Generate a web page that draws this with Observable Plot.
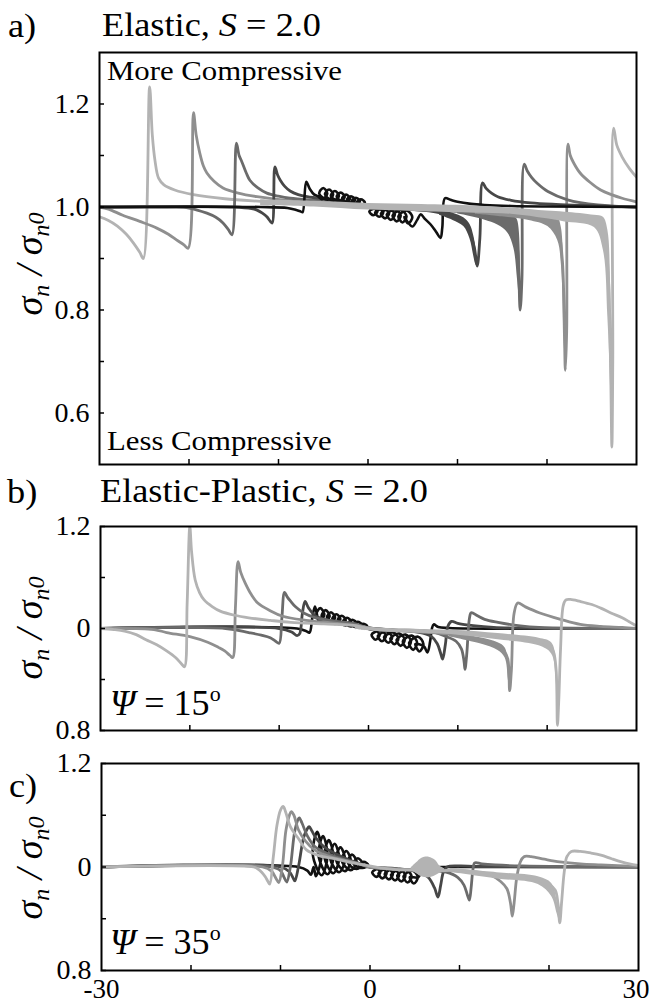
<!DOCTYPE html>
<html>
<head>
<meta charset="utf-8">
<script src="https://cdn.jsdelivr.net/npm/d3@7"></script>
<script src="https://cdn.jsdelivr.net/npm/@observablehq/plot@0.6"></script>
<style>
  html, body { margin: 0; padding: 0; background: #fff; }
  #root { position: relative; width: 649px; height: 1004px; overflow: hidden; font-family: "Liberation Serif", "Times New Roman", serif; }
  #root svg { position: absolute; left: 0; }
</style>
</head>
<body>
<div id="root"></div>
<script>
// ---------- shared axes ----------
const X_DOMAIN = [-30, 30];
const X_TICKS = [-20, -10, 0, 10, 20];
const X_LABEL_VALUES = [-30, 0];
const X_LABEL_TEXT = ["-30", "0"];
const X_LABEL_END = [30];
const X_LABEL_END_TEXT = ["30"];
const Y_TICKS_A = [0.6, 0.7, 0.8, 0.9, 1.0, 1.1, 1.2];
const Y_TEXT_A = ["0.6", "", "0.8", "", "1.0", "", "1.2"];
const Y_TICKS_BC = [0.8, 0.9, 1.0, 1.1, 1.2];
const Y_TEXT_BC = ["0.8", "", "0", "", "1.2"];
const COLORS = { L: "#b3b3b3", G: "#8f8f8f", M: "#6b6b6b", D: "#474747", K: "#111111" };

// ---------- panel a) Elastic ----------
const aL = [[-30,0.981],[-29,0.974],[-28,0.963],[-27,0.947],[-26.2,0.93],[-25.5,0.912],[-25.1,0.9],[-24.4,1.233],[-24.1,1.14],[-23.8,1.09],[-23.4,1.056],[-22.8,1.043],[-21.6,1.033],[-19.5,1.024],[-16,1.016],[-12,1.011],[-8,1.007],[-4,1.004],[0,1.0],[4,0.998],[8,0.996],[12,0.993],[16,0.99],[20,0.984],[23,0.979],[25,0.972],[26,0.96],[26.6,0.92],[26.9,0.85],[27.1,0.7],[27.25,0.534],[27.35,0.7],[27.45,1.153],[27.8,1.12],[28.4,1.097],[29.2,1.075],[30,1.058]];
const aL_band = [[-12,1.014,1.003],[-6,1.011,1.0],[0,1.007,0.994],[6,1.005,0.991],[12,1.002,0.988],[16,0.998,0.986],[20,0.992,0.977],[22,0.99,0.971],[25.3,0.984,0.96],[26.3,0.98,0.916],[26.8,0.955,0.786],[27.1,0.85,0.65],[27.25,0.55,0.534]];
const aG = [[-30,1.0],[-29,0.996],[-27.4,0.984],[-25.5,0.972],[-23.6,0.959],[-22.3,0.947],[-21.4,0.936],[-20.6,0.927],[-20.1,0.92],[-19.5,1.183],[-19.2,1.14],[-18.8,1.105],[-18.4,1.08],[-18.0,1.066],[-17.2,1.05],[-16.2,1.037],[-14.5,1.027],[-12.4,1.02],[-8.5,1.012],[-5,1.008],[-1,1.003],[1,0.998],[5,0.995],[10,0.992],[14,0.988],[17,0.984],[19,0.978],[20.1,0.972],[21.2,0.955],[21.7,0.9],[21.95,0.75],[22.05,0.683],[22.2,0.76],[22.35,1.122],[22.6,1.1],[23,1.085],[23.7,1.066],[24.8,1.048],[26,1.033],[27.2,1.024],[28.4,1.017],[30,1.01]];
const aG_band = [[12,0.994,0.986],[15,0.992,0.981],[18,0.99,0.974],[20.1,0.987,0.962],[21.2,0.98,0.935],[21.6,0.96,0.89],[21.9,0.86,0.75],[22.05,0.683,0.683]];
const aM = [[-30,1.0],[-22,1.0],[-20,0.998],[-18,0.988],[-17,0.98],[-16.2,0.969],[-15.6,0.956],[-15.2,0.946],[-14.7,1.124],[-14.4,1.1],[-14.1,1.088],[-13.6,1.066],[-13.2,1.052],[-12.3,1.037],[-11.3,1.027],[-10,1.021],[-8.7,1.017],[-5,1.012],[-1.2,1.006],[0.5,0.999],[4,0.996],[8,0.993],[11,0.99],[13,0.985],[14.5,0.978],[15.6,0.968],[16.3,0.952],[16.7,0.92],[17.0,0.8],[17.2,0.86],[17.45,1.083],[17.8,1.07],[18.3,1.057],[18.9,1.046],[20.1,1.03],[22.3,1.014],[25.7,1.004],[30,1.0]];
const aM_band = [[10,0.994,0.987],[13,0.99,0.975],[14.5,0.987,0.965],[15.6,0.984,0.95],[16.3,0.981,0.92],[16.7,0.975,0.86],[17.0,0.8,0.8]];
const aD = [[-30,1.0],[-15,1.0],[-13,0.997],[-12.4,0.994],[-11.8,0.988],[-11.3,0.981],[-10.9,0.972],[-10.7,0.969],[-10.4,1.078],[-10.1,1.062],[-9.8,1.052],[-9.3,1.04],[-8.7,1.031],[-7.8,1.024],[-6.8,1.02],[-5,1.016],[-3.1,1.013],[-1.5,1.008],[0,1.001],[3,0.997],[6,0.994],[8.5,0.987],[10.0,0.976],[10.8,0.968],[11.4,0.95],[11.9,0.92],[12.2,0.885],[12.5,0.94],[12.8,1.047],[13.2,1.036],[13.8,1.027],[14.5,1.02],[16,1.013],[18.2,1.008],[21,1.005],[24,1.003],[30,1.0]];
const aD_band = [[8,0.992,0.984],[9.5,0.988,0.974],[10.7,0.979,0.962],[11.4,0.966,0.938],[11.8,0.945,0.906],[12.05,0.92,0.888],[12.2,0.885,0.885]];
const aK_pre = [[-30,1.0],[-12,1.0],[-9,0.998],[-8,0.994],[-7.5,0.991],[-7.3,0.99],[-6.9,1.049],[-6.5,1.035],[-6.0,1.024],[-5.6,1.021]];
const aK_loopsUp = [[-5.0,1.015,1.037],[-4.35,1.014,1.034],[-3.7,1.012,1.031],[-3.05,1.011,1.028],[-2.45,1.009,1.024],[-1.9,1.007,1.021],[-1.35,1.005,1.018],[-0.8,1.003,1.015]];
const aK_mid = [[-0.3,1.003],[0.1,0.999]];
const aK_loopsDown = [[0.6,0.999,0.984],[1.25,0.998,0.981],[1.9,0.997,0.978],[2.55,0.996,0.975],[3.2,0.995,0.972],[3.85,0.994,0.970],[4.5,0.993,0.968]];
const aK_post = [[4.95,0.962],[5.5,0.975],[5.9,0.986],[6.3,0.978],[7.0,0.966],[7.6,0.952],[8.1,0.94],[8.3,0.96],[8.6,1.017],[9.2,1.014],[10,1.01],[11.5,1.006],[13,1.004],[16,1.002],[20,1.001],[30,1.0]];

// ---------- panel b) Elastic-Plastic, psi = 15 ----------
const bL = [[-30,1.0],[-28.5,0.998],[-27.3,0.995],[-26,0.988],[-24.9,0.978],[-23.7,0.968],[-22.6,0.956],[-21.6,0.943],[-20.9,0.93],[-20.6,0.925],[-20.3,1.05],[-20.0,1.2],[-19.8,1.15],[-19.4,1.095],[-18.9,1.07],[-18.4,1.056],[-17.5,1.043],[-16.6,1.034],[-15,1.026],[-13.4,1.021],[-11,1.016],[-8.7,1.012],[-5,1.009],[-1.7,1.006],[0,1.0],[2.5,0.997],[5.2,0.995],[9.8,0.992],[14.5,0.985],[17,0.98],[19.1,0.975],[20.2,0.968],[20.7,0.955],[21.0,0.92],[21.15,0.81],[21.3,0.86],[21.5,0.96],[21.8,1.045],[22.1,1.056],[22.6,1.057],[23.7,1.053],[25,1.047],[26,1.04],[27.2,1.03],[28.4,1.021],[29.3,1.012],[30,1.005]];
const bL_band = [[-1.5,1.006,0.998],[1,1.001,0.994],[6,0.998,0.991],[10,0.996,0.987],[14.5,0.99,0.978],[19.1,0.981,0.966],[20.5,0.972,0.95],[21.0,0.94,0.9],[21.15,0.81,0.81]];
const bG = [[-30,1.0],[-24,0.998],[-22.6,0.992],[-20,0.984],[-18,0.973],[-16.8,0.963],[-16.1,0.956],[-15.5,0.947],[-15.2,0.943],[-14.9,1.04],[-14.6,1.131],[-14.3,1.11],[-13.8,1.089],[-13.1,1.066],[-12.4,1.05],[-11,1.035],[-9.6,1.024],[-7,1.016],[-4.1,1.011],[-1,1.005],[1,0.998],[5,0.994],[9.8,0.988],[12.5,0.978],[14.5,0.966],[15.2,0.955],[15.6,0.94],[15.8,0.878],[16.0,0.92],[16.3,1.03],[16.7,1.05],[17.5,1.043],[19.1,1.031],[21.5,1.018],[23.7,1.008],[26,1.004],[28.4,1.002],[30,1.0]];
const bG_band = [[9,0.99,0.984],[12.5,0.982,0.97],[14.5,0.972,0.957],[15.3,0.962,0.942],[15.65,0.93,0.9],[15.8,0.878,0.878]];
const bM = [[-30,1.0],[-16,1.0],[-13.4,0.992],[-12,0.987],[-11,0.982],[-10.4,0.975],[-10,0.971],[-9.7,1.02],[-9.4,1.071],[-9.1,1.062],[-8.7,1.053],[-8.2,1.043],[-7.2,1.03],[-5.9,1.021],[-4,1.015],[-1.7,1.01],[0,1.001],[3,0.997],[6,0.996],[7.5,0.992],[8.6,0.985],[9.8,0.975],[10.4,0.96],[10.7,0.935],[10.8,0.92],[11.0,0.95],[11.3,1.02],[11.5,1.031],[12.2,1.025],[13,1.018],[14.5,1.012],[17,1.005],[19.1,1.002],[30,1.0]];
const bD = [[-30,1.0],[-10,1.0],[-8.6,0.993],[-8.0,0.986],[-7.7,0.99],[-7.4,1.03],[-7.1,1.053],[-6.7,1.04],[-5.9,1.024],[-4.5,1.016],[-3,1.011],[-1.7,1.008],[0,1.001],[3,0.997],[5.5,0.993],[7,0.985],[7.7,0.97],[8.1,0.95],[8.3,0.94],[8.6,0.968],[8.9,1.005],[9.3,1.014],[10,1.01],[11.5,1.006],[14,1.002],[30,1.0]];
const bK_pre = [[-30,1.0],[-8,1.0],[-7.0,0.995],[-6.6,0.992],[-6.3,1.02],[-6.0,1.043],[-5.8,1.03]];
const bK_loopsUp = [[-5.4,1.013,1.040],[-4.8,1.012,1.036],[-4.2,1.011,1.032],[-3.6,1.009,1.028],[-3.0,1.008,1.025],[-2.4,1.006,1.021],[-1.8,1.004,1.017],[-1.2,1.003,1.013],[-0.6,1.001,1.009]];
const bK_mid = [[-0.1,1.0],[0.3,0.998]];
const bK_loopsDown = [[0.8,0.998,0.978],[1.5,0.996,0.975],[2.2,0.994,0.972],[2.9,0.992,0.969],[3.6,0.99,0.966],[4.3,0.988,0.962],[5.0,0.986,0.958],[5.7,0.984,0.955]];
const bK_post = [[6.2,0.965],[6.6,0.953],[6.9,0.975],[7.1,1.0],[7.3,1.008],[7.8,1.003],[9,1.001],[30,1.0]];

// ---------- panel c) psi = 35 ----------
const cL = [[-30,1.0],[-13,1.0],[-12.6,0.997],[-12.1,0.99],[-11.7,0.981],[-11.4,0.972],[-11.2,0.967],[-10.8,1.02],[-10.4,1.08],[-10.0,1.11],[-9.7,1.117],[-9.4,1.105],[-8.9,1.078],[-8.0,1.055],[-7.1,1.033],[-5.7,1.022],[-4.3,1.017],[-2.5,1.01],[-0.6,1.004],[1,0.999],[3,0.995],[5,0.994],[8,0.993],[9.6,0.994],[12,0.99],[14.2,0.984],[16.5,0.98],[18.8,0.975],[20.0,0.967],[20.7,0.955],[21.0,0.93],[21.2,0.892],[21.4,0.93],[21.7,0.99],[22.0,1.02],[22.5,1.03],[23.5,1.03],[24.7,1.027],[25.8,1.023],[27,1.016],[28.1,1.01],[29,1.006],[30,1.003]];
const cL_band = [[9,0.997,0.99],[14.2,0.989,0.977],[18.8,0.981,0.966],[20.3,0.968,0.943],[20.9,0.935,0.91],[21.2,0.892,0.892]];
const cL_blob = [[4.6,0.998,0.994],[5.2,1.008,0.987],[5.8,1.017,0.981],[6.6,1.019,0.979],[7.3,1.013,0.983],[7.8,1.002,0.988],[8.3,0.997,0.992]];
const cG = [[-30,1.0],[-12,1.0],[-11,0.992],[-10.5,0.978],[-10.2,0.97],[-9.8,1.0],[-9.4,1.07],[-9.0,1.1],[-8.8,1.107],[-8.5,1.1],[-8.0,1.072],[-7.2,1.05],[-6.2,1.033],[-4.5,1.02],[-2.0,1.01],[0,1.0],[3,0.996],[6,0.994],[9,0.993],[11.9,0.99],[13.5,0.984],[14.6,0.972],[15.3,0.958],[15.7,0.93],[15.9,0.905],[16.1,0.93],[16.4,0.98],[16.8,1.01],[17.2,1.02],[18,1.02],[19.5,1.015],[21.2,1.01],[23.5,1.006],[25.8,1.004],[30,1.001]];
const cM = [[-30,1.0],[-11,1.0],[-10,0.993],[-9.6,0.98],[-9.3,0.971],[-8.9,1.0],[-8.4,1.07],[-8.0,1.093],[-7.9,1.095],[-7.6,1.085],[-7.0,1.06],[-6.2,1.04],[-5,1.028],[-3,1.015],[-1,1.005],[0,1.0],[3,0.996],[6,0.994],[8.5,0.99],[9.8,0.98],[10.5,0.965],[10.9,0.945],[11.1,0.936],[11.3,0.96],[11.5,0.995],[11.7,1.008],[12.5,1.006],[14,1.004],[17,1.002],[30,1.0]];
const cD = [[-30,1.0],[-10,1.0],[-9,0.991],[-8.6,0.979],[-8.4,0.973],[-8.0,1.0],[-7.4,1.058],[-7.0,1.074],[-6.8,1.078],[-6.5,1.07],[-6.0,1.055],[-5.2,1.04],[-4,1.027],[-2.5,1.015],[-1,1.006],[0,1.0],[3,0.997],[5.5,0.99],[6.5,0.98],[7.2,0.96],[7.6,0.942],[7.9,0.965],[8.2,0.99],[8.6,1.0],[10,1.002],[12,1.001],[30,1.0]];
const cK_pre = [[-30,1.0],[-8,1.0],[-7.0,0.993],[-6.6,0.985],[-6.3,1.0]];
const cK_loopsUp = [[-5.9,0.982,1.068],[-5.25,0.984,1.06],[-4.6,0.986,1.052],[-3.95,0.988,1.045],[-3.3,0.99,1.038],[-2.65,0.992,1.031],[-2.0,0.994,1.024],[-1.35,0.996,1.017],[-0.7,0.998,1.01]];
const cK_mid = [[-0.2,1.0],[0.2,0.999]];
const cK_loopsDown = [[0.7,0.999,0.981],[1.4,0.998,0.978],[2.1,0.997,0.976],[2.8,0.996,0.974],[3.5,0.995,0.972],[4.2,0.994,0.97],[4.9,0.993,0.968]];
const cK_post = [[5.4,0.98],[5.8,0.995],[6.1,1.004],[6.6,1.0],[8,1.0],[30,1.0]];

// ---------- helpers ----------
// each loop record is [centre x, value where the loop starts, value at the loop's far side]
function loopPath(loops, r) {
  const pts = [];
  for (const [xc, base, peak] of loops) {
    const mid = (base + peak) / 2;
    pts.push([xc - 0.15, base], [xc + r, mid], [xc, peak], [xc - r, mid]);
  }
  return pts;
}
const blackA = [...aK_pre, ...loopPath(aK_loopsUp, 0.45), ...aK_mid, ...loopPath(aK_loopsDown, 0.45), ...aK_post];
const blackB = [...bK_pre, ...loopPath(bK_loopsUp, 0.45), ...bK_mid, ...loopPath(bK_loopsDown, 0.45), ...bK_post];
const blackC = [...cK_pre, ...loopPath(cK_loopsUp, 0.5), ...cK_mid, ...loopPath(cK_loopsDown, 0.45), ...cK_post];

const root = document.getElementById("root");

function lineMark(points, color, w) {
  return Plot.line(points, {x: d => d[0], y: d => d[1], stroke: color, strokeWidth: w, curve: "catmull-rom", strokeLinejoin: "round", clip: true});
}
function bandMark(band, color) {
  return Plot.areaY(band, {x: d => d[0], y1: d => d[1], y2: d => d[2], fill: color, curve: "catmull-rom", clip: true});
}

function panel(cfg) {
  const marks = [...cfg.marks];
  marks.push(Plot.axisY(cfg.yTicks, {anchor: "left", tickSize: -5, tickPadding: 15, strokeWidth: 1.5, fontSize: 28, label: null,
    tickFormat: v => cfg.yText[cfg.yTicks.indexOf(v)]}));
  marks.push(Plot.axisX(X_TICKS, {anchor: "bottom", tickSize: -5, strokeWidth: 1.5, label: null, tickFormat: () => ""}));
  if (cfg.xLabels) {
    marks.push(Plot.axisX(X_LABEL_VALUES, {anchor: "bottom", tickSize: 0, tickPadding: 8, fontSize: 27, label: null,
      tickFormat: v => X_LABEL_TEXT[X_LABEL_VALUES.indexOf(v)]}));
    marks.push(Plot.axisX(X_LABEL_END, {anchor: "bottom", tickSize: 0, tickPadding: 8, fontSize: 27, label: null, textAnchor: "end", dx: 11,
      tickFormat: v => X_LABEL_END_TEXT[X_LABEL_END.indexOf(v)]}));
  }
  marks.push(Plot.frame({stroke: "#000", strokeWidth: 2}));
  const svg = Plot.plot({
    width: 649, height: cfg.height,
    marginTop: cfg.mt, marginBottom: cfg.mb, marginLeft: cfg.ml, marginRight: cfg.mr,
    x: {domain: X_DOMAIN}, y: {domain: cfg.yDomain},
    style: {fontFamily: "'Liberation Serif', 'Times New Roman', serif", fontSize: "27px", background: "transparent", color: "#000"},
    marks
  });
  svg.style.top = cfg.top + "px";
  root.appendChild(svg);
}

// panel a: lines light -> dark, then the noisy bands on top
panel({top: 0, height: 476, mt: 52, mb: 12, ml: 99, mr: 13, yDomain: [0.5, 1.3], yTicks: Y_TICKS_A, yText: Y_TEXT_A,
  marks: [
    lineMark(aL, COLORS.L, 2.8), lineMark(aG, COLORS.G, 2.8), lineMark(aM, COLORS.M, 2.8),
    lineMark(aD, COLORS.D, 2.8), lineMark(blackA, COLORS.K, 2.6),
    bandMark(aD_band, COLORS.D), bandMark(aM_band, COLORS.M), bandMark(aG_band, COLORS.G), bandMark(aL_band, COLORS.L)
  ]});
// panels b, c: dark -> light
panel({top: 476, height: 272, mt: 50, mb: 18, ml: 100, mr: 13, yDomain: [0.8, 1.2], yTicks: Y_TICKS_BC, yText: Y_TEXT_BC,
  marks: [
    lineMark(blackB, COLORS.K, 2.6), lineMark(bD, COLORS.D, 2.8), lineMark(bM, COLORS.M, 2.8),
    bandMark(bG_band, COLORS.G), lineMark(bG, COLORS.G, 2.8),
    bandMark(bL_band, COLORS.L), lineMark(bL, COLORS.L, 2.8)
  ]});
panel({top: 748, height: 256, mt: 15, mb: 34, ml: 101, mr: 11, yDomain: [0.8, 1.2], yTicks: Y_TICKS_BC, yText: Y_TEXT_BC, xLabels: true,
  marks: [
    lineMark(blackC, COLORS.K, 2.6), lineMark(cD, COLORS.D, 2.8), lineMark(cM, COLORS.M, 2.8), lineMark(cG, COLORS.G, 2.8),
    bandMark(cL_band, COLORS.L), bandMark(cL_blob, COLORS.L), lineMark(cL, COLORS.L, 2.8)
  ]});

// ---------- text overlay ----------
const NS = "http://www.w3.org/2000/svg";
const over = document.createElementNS(NS, "svg");
over.setAttribute("width", 649); over.setAttribute("height", 1004);
over.style.top = "0px";
over.style.fontFamily = "'Liberation Serif', 'Times New Roman', serif";
const yLabel = (x, y) => `<text transform="translate(${x},${y}) rotate(-90)" text-anchor="middle">σ<tspan font-size="24" dy="7">n</tspan><tspan dy="-7"> / σ</tspan><tspan font-size="24" dy="7">n</tspan><tspan font-size="24" dy="-5">0</tspan></text>`;
over.innerHTML = `
  <g font-size="33" fill="#000">
    <text transform="translate(8,37) scale(1.1,1)">a)</text>
    <text transform="translate(102,36) scale(1.1,1)">Elastic, <tspan font-style="italic">S</tspan> = 2.0</text>
    <text transform="translate(7,503) scale(1.1,1)">b)</text>
    <text transform="translate(100,502) scale(1.1,1)">Elastic-Plastic, <tspan font-style="italic">S</tspan> = 2.0</text>
    <text transform="translate(9,797) scale(1.1,1)">c)</text>
  </g>
  <g font-size="27" fill="#000">
    <text transform="translate(107,80) scale(1.14,1)">More Compressive</text>
    <text transform="translate(107,450) scale(1.14,1)">Less Compressive</text>
  </g>
  <g font-size="36" fill="#000">
    <text x="110" y="715"><tspan font-style="italic">Ψ</tspan> = 15<tspan font-size="22" dy="-14">o</tspan></text>
    <text x="110" y="954"><tspan font-style="italic">Ψ</tspan> = 35<tspan font-size="22" dy="-14">o</tspan></text>
  </g>
  <g font-size="38" font-style="italic" fill="#000">
    ${yLabel(42, 264)}
    ${yLabel(42, 628)}
    ${yLabel(42, 868)}
  </g>`;
root.appendChild(over);
</script>
</body>
</html>
